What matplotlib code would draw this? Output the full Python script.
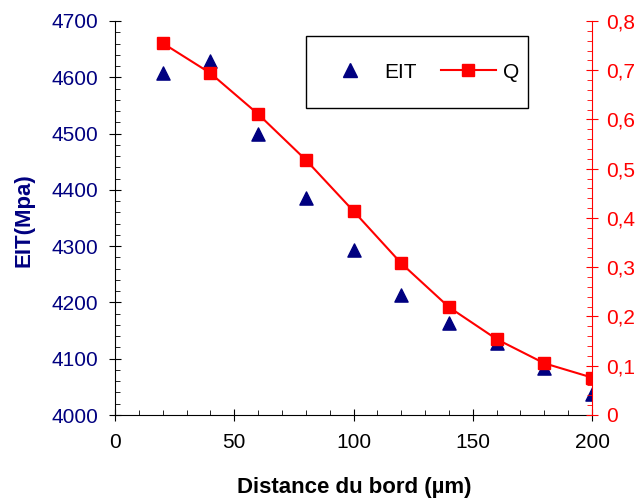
import matplotlib
matplotlib.use("Agg")
import matplotlib.pyplot as plt
from matplotlib.ticker import MultipleLocator, FuncFormatter
from matplotlib.lines import Line2D
from matplotlib.patches import Rectangle

distance = [20, 40, 60, 80, 100, 120, 140, 160, 180, 200]
eit = [4607, 4629, 4499, 4386, 4293, 4213, 4164, 4128, 4084, 4037]
q = [0.755, 0.694, 0.611, 0.518, 0.414, 0.308, 0.219, 0.154, 0.105, 0.076]

plt.rcParams['font.family'] = ['Liberation Sans', 'DejaVu Sans']
NAVY = '#000080'
RED = '#FF0000'

fig = plt.figure(figsize=(6.39, 5.0), dpi=100)
ax = fig.add_axes([0.18, 0.17, 0.7465, 0.788])
ax2 = ax.twinx()

ax.scatter(distance, eit, marker='^', s=90, color=NAVY, zorder=3, label='EIT')
ax2.plot(distance, q, color=RED, lw=1.5, marker='s', ms=8.8, zorder=3, label='Q')

ax.set_xlim(0, 200)
ax.set_ylim(4000, 4700)
ax2.set_ylim(0, 0.8)

ax.xaxis.set_major_locator(MultipleLocator(50))
ax.xaxis.set_minor_locator(MultipleLocator(10))
ax.yaxis.set_major_locator(MultipleLocator(100))
ax.yaxis.set_minor_locator(MultipleLocator(20))
ax2.yaxis.set_major_locator(MultipleLocator(0.1))
ax2.yaxis.set_minor_locator(MultipleLocator(0.02))
ax2.yaxis.set_major_formatter(FuncFormatter(lambda v, p: ('%g' % round(v, 2)).replace('.', ',')))

for a in (ax, ax2):
    a.spines['top'].set_visible(False)
ax.spines['right'].set_visible(False)
ax2.spines['left'].set_visible(False)
ax2.spines['bottom'].set_visible(False)
ax2.spines['right'].set_color(RED)

FS = 15
ax.tick_params(axis='x', which='major', direction='inout', length=8.6, labelsize=FS, pad=9, colors='black')
ax.tick_params(axis='x', which='minor', direction='in', length=3.6)
ax.tick_params(axis='y', which='major', direction='inout', length=8.6, labelsize=FS, pad=8, labelcolor=NAVY)
ax.tick_params(axis='y', which='minor', direction='in', length=3.6)
ax2.tick_params(axis='y', which='major', direction='inout', length=8.6, labelsize=FS, pad=6, colors=RED)
ax2.tick_params(axis='y', which='minor', direction='in', length=3.6, colors=RED)

ax.set_xlabel('Distance du bord (µm)', fontsize=16, fontweight='bold', va='center')
ax.xaxis.set_label_coords(0.501, -0.185)
ax.set_ylabel('EIT(Mpa)', fontsize=16, fontweight='bold', color=NAVY, va='center')
ax.yaxis.set_label_coords(-0.191, 0.495)

box = Rectangle((0.400, 0.779), 0.466, 0.183, transform=ax.transAxes, fill=True,
                facecolor='white', edgecolor='black', lw=1.0, zorder=5)
ax2.add_patch(box)
handles = [Line2D([], [], ls='none', marker='^', ms=10, color=NAVY),
           Line2D([], [], color=RED, lw=1.5, marker='s', ms=8)]
leg = ax2.legend(handles, ['EIT', 'Q'], loc='center', bbox_to_anchor=(0.641, 0.870),
                 ncol=2, fontsize=FS, frameon=False, columnspacing=1.2,
                 handlelength=2.6, handletextpad=0.35, borderpad=0, borderaxespad=0)
leg.set_zorder(6)

fig.savefig('out.png', dpi=100)
